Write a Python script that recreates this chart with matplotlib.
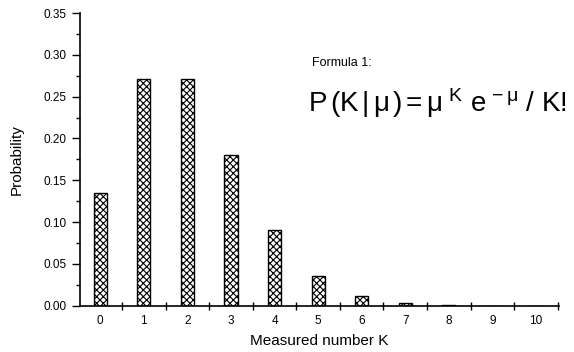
import matplotlib
matplotlib.use("Agg")
import matplotlib.pyplot as plt
from matplotlib.ticker import MultipleLocator, FixedLocator, FormatStrFormatter

plt.rcParams['font.family'] = ['Liberation Sans', 'DejaVu Sans']
plt.rcParams['mathtext.fontset'] = 'custom'
plt.rcParams['mathtext.rm'] = 'Liberation Sans'
plt.rcParams['mathtext.it'] = 'Liberation Sans'
plt.rcParams['hatch.linewidth'] = 0.8

# Poisson probabilities (mu = 2)
k_values = [0, 1, 2, 3, 4, 5, 6, 7, 8, 9, 10]
probabilities = [0.135, 0.271, 0.271, 0.180, 0.090, 0.036, 0.012, 0.0034, 0.0009, 0.0002, 0.00004]

fig = plt.figure(figsize=(5.74, 3.52), dpi=100)
ax = fig.add_axes([0.139, 0.1315, 0.835, 0.8315])

ax.bar(k_values, probabilities, width=0.3, color='white', edgecolor='black',
       linewidth=1.0, hatch='xxxxx')

ax.set_xlim(-0.47, 10.53)
ax.set_ylim(0, 0.35)

# y axis
ax.yaxis.set_major_locator(MultipleLocator(0.05))
ax.yaxis.set_minor_locator(MultipleLocator(0.025))
ax.yaxis.set_major_formatter(FormatStrFormatter('%.2f'))
ax.tick_params(axis='y', which='major', direction='out', length=5.5, width=1, labelsize=8.5, pad=4)
ax.tick_params(axis='y', which='minor', direction='out', length=3, width=1)

# x axis: ticks between bars, labels under bars
ax.xaxis.set_major_locator(FixedLocator([x + 0.5 for x in range(-1, 11)]))
ax.xaxis.set_major_formatter(plt.NullFormatter())
ax.xaxis.set_minor_locator(FixedLocator(k_values))
ax.set_xticklabels([str(k) for k in k_values], minor=True)
ax.tick_params(axis='x', which='major', direction='inout', length=6, width=1)
ax.tick_params(axis='x', which='minor', length=0, labelsize=8.5, pad=7)

ax.spines['top'].set_visible(False)
ax.spines['right'].set_visible(False)
ax.spines['left'].set_linewidth(1.2)
ax.spines['bottom'].set_linewidth(1.2)

ax.set_xlabel("Measured number K", fontsize=11, labelpad=5)
ax.set_ylabel("Probability", fontsize=11, labelpad=14)

ax.text(4.86, 0.290, "Formula 1:", fontsize=9, va='center', ha='left')
ax.text(4.77, 0.2316, r"P$\,$(K$\,$|$\,\mu\,$)$\,$=$\,\mu^{\,\,K}$ e$^{\,-\mu}$ / K!",
        fontsize=20, va='baseline', ha='left')

fig.savefig("out.png", dpi=100)
